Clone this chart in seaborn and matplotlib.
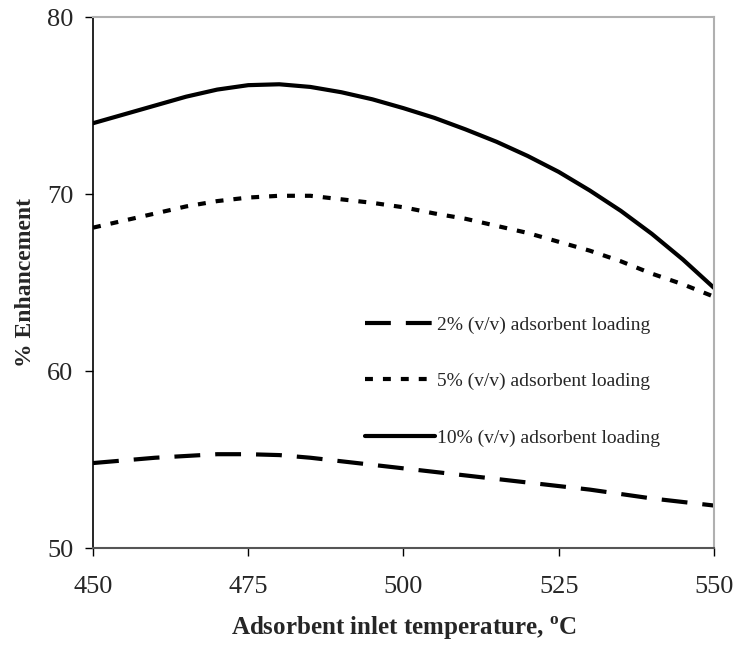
import matplotlib
matplotlib.use("Agg")
import matplotlib.pyplot as plt
import seaborn as sns
import pandas as pd

temps = [450, 455, 460, 465, 470, 475, 480, 485, 490, 495, 500,
         505, 510, 515, 520, 525, 530, 535, 540, 545, 550]
load2 = [54.8, 54.95, 55.1, 55.2, 55.3, 55.3, 55.25, 55.1, 54.9, 54.7, 54.5,
         54.3, 54.1, 53.9, 53.7, 53.5, 53.3, 53.05, 52.8, 52.6, 52.4]
load5 = [68.1, 68.5, 68.9, 69.3, 69.6, 69.8, 69.9, 69.9, 69.7, 69.5, 69.25,
         68.9, 68.6, 68.2, 67.8, 67.3, 66.8, 66.2, 65.5, 64.9, 64.2]
load10 = [74.0, 74.5, 75.0, 75.5, 75.9, 76.15, 76.2, 76.05, 75.75, 75.35, 74.85,
          74.3, 73.65, 72.95, 72.15, 71.25, 70.2, 69.05, 67.75, 66.3, 64.7]
labels = ["2% (v/v) adsorbent loading",
          "5% (v/v) adsorbent loading",
          "10% (v/v) adsorbent loading"]
xticks = [450, 475, 500, 525, 550]
yticks = [50, 60, 70, 80]

sns.set_style("white")
plt.rcParams['font.family'] = ['Liberation Serif', 'DejaVu Serif']
plt.rcParams['mathtext.fontset'] = 'custom'
plt.rcParams['mathtext.rm'] = 'Liberation Serif'
plt.rcParams['mathtext.bf'] = 'Liberation Serif:bold'

fig = plt.figure(figsize=(7.36, 6.47), dpi=100)
ax = fig.add_axes([0.1264, 0.153, 0.8436, 0.8207])

styles = [(0, (6.2, 3.6)), (0, (1.9, 2.4)), '-']
for vals, lab, ls in zip([load2, load5, load10], labels, styles):
    df = pd.DataFrame({"T": temps, "E": vals})
    sns.lineplot(data=df, x="T", y="E", ax=ax, color="black", lw=3,
                 linestyle=ls, label=lab)

ax.set_xlim(450, 550)
ax.set_ylim(50, 80)
ax.set_xticks(xticks)
ax.set_yticks(yticks)
ax.tick_params(axis='y', labelsize=19, direction='out', length=6,
               width=1, color='black', left=True, pad=8)
ax.tick_params(axis='x', labelsize=19, direction='out', length=6,
               width=1, color='black', bottom=True, pad=14)
for side in ['top', 'right']:
    ax.spines[side].set_color('#b0b0b0')
    ax.spines[side].set_linewidth(1.5)
ax.spines['left'].set_color('black')
ax.spines['left'].set_linewidth(1.2)
ax.spines['bottom'].set_color('#555555')
ax.spines['bottom'].set_linewidth(1.5)

ax.set_xlabel(r'Adsorbent inlet temperature, $^{\mathbf{o}}$C',
              fontsize=18, fontweight='bold', labelpad=12)
ax.set_ylabel('% Enhancement', fontsize=17, fontweight='bold', labelpad=8)

leg = ax.legend(loc='upper left', bbox_to_anchor=(0.41, 0.47), frameon=False,
                fontsize=14, handlelength=3.6, handletextpad=0.1,
                labelspacing=2.0)

fig.savefig("out.png", dpi=100)
